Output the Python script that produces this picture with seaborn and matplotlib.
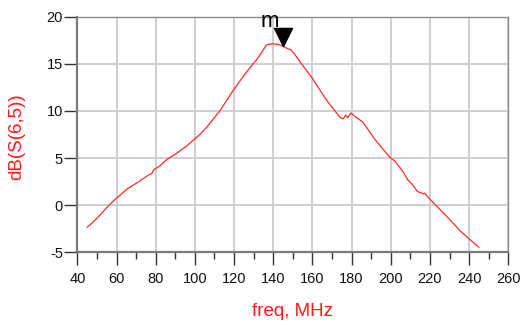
import numpy as np
import pandas as pd
import matplotlib
matplotlib.use("Agg")
import matplotlib.pyplot as plt
from matplotlib.ticker import MultipleLocator
import seaborn as sns

# Transmission S(6,5) in dB versus frequency
freq_mhz = [45, 48, 52, 56.2, 60, 65.7, 71.7, 76.9, 78, 79, 82, 85.5, 90, 95.9,
            100, 103, 106.2, 113, 119.7, 126.5, 131.5, 134, 136.6, 139, 141.7,
            143.5, 145, 147, 149.2, 151, 154.2, 160, 166.7, 170, 174.2, 175.8,
            177, 178, 179.7, 181.7, 185.8, 191.7, 196, 200, 202, 206.2, 208.7,
            211, 213.7, 216.7, 217.3, 218, 220.3, 224.5, 230.3, 235.3, 240.3, 245]
s65_db = [-2.36, -1.8, -0.95, 0.0, 0.75, 1.76, 2.54, 3.27, 3.35, 3.77, 4.15, 4.82,
          5.4, 6.3, 7.05, 7.6, 8.31, 10.09, 12.22, 14.18, 15.43, 16.2, 17.0, 17.12,
          17.1, 17.0, 16.85, 16.65, 16.45, 16.0, 15.07, 13.46, 11.3, 10.4, 9.29,
          9.18, 9.54, 9.29, 9.79, 9.43, 8.82, 7.04, 5.95, 5.0, 4.7, 3.58, 2.7, 2.2,
          1.45, 1.2, 1.28, 1.1, 0.57, -0.32, -1.56, -2.7, -3.62, -4.47]

marker_name = "m"
marker_freq = 145.0

x_ticks = list(range(40, 261, 20))
y_ticks = list(range(-5, 21, 5))

df = pd.DataFrame({"freq": freq_mhz, "db": s65_db})

sns.set_theme(style="white")
plt.rcParams["font.family"] = ["Liberation Sans", "DejaVu Sans"]
plt.rcParams["axes.unicode_minus"] = False

fig = plt.figure(figsize=(5.30, 3.27), dpi=100)
ax = fig.add_axes([0.1459, 0.2284, 0.8131, 0.7205])

sns.lineplot(data=df, x="freq", y="db", ax=ax, color="#ff2a2a", linewidth=0.9)

ax.set_xlim(40, 260)
ax.set_ylim(-5, 20)
ax.set_xticks(x_ticks)
ax.set_yticks(y_ticks)
ax.xaxis.set_minor_locator(MultipleLocator(10))
ax.grid(True, which="major", color="#cccccc", linewidth=1.3)
ax.set_axisbelow(True)

for side in ("top", "right"):
    ax.spines[side].set_color("#8c8c8c")
    ax.spines[side].set_linewidth(1.0)
for side in ("left", "bottom"):
    ax.spines[side].set_color("#7a7a7a")
    ax.spines[side].set_linewidth(1.6)

ax.tick_params(axis="x", which="major", direction="out", length=9.4, width=1.0,
               color="#333333", pad=4.5, labelsize=10.5, labelcolor="#111111",
               bottom=True)
ax.tick_params(axis="x", which="minor", direction="out", length=5, width=1.0,
               color="#333333", bottom=True)
ax.tick_params(axis="y", which="major", direction="out", length=9.4, width=1.0,
               color="#333333", pad=1.0, labelsize=10.5, labelcolor="#111111",
               left=True)

ax.set_xlabel("freq, MHz", color="#ff1a1a", fontsize=13.5)
ax.set_ylabel("dB(S(6,5))", color="#ff1a1a", fontsize=13.5)
ax.xaxis.set_label_coords(0.5, -0.215)
ax.yaxis.set_label_coords(-0.122, 0.49)

# Marker: downward triangle whose tip sits on the trace
marker_val = float(np.interp(marker_freq, freq_mhz, s65_db))
tri = matplotlib.path.Path([(-0.5, 1.0), (0.5, 1.0), (0.0, 0.0), (-0.5, 1.0)],
                           [1, 2, 2, 79])
ax.plot([marker_freq], [marker_val], marker=tri, markersize=26, color="black",
        linestyle="none", clip_on=False, zorder=5)
ax.annotate(marker_name, xy=(marker_freq, marker_val), xytext=(-9.4, 14.2),
            textcoords="offset points", ha="center", va="baseline",
            fontsize=16, color="black", annotation_clip=False)

fig.savefig("out.png", dpi=100)
